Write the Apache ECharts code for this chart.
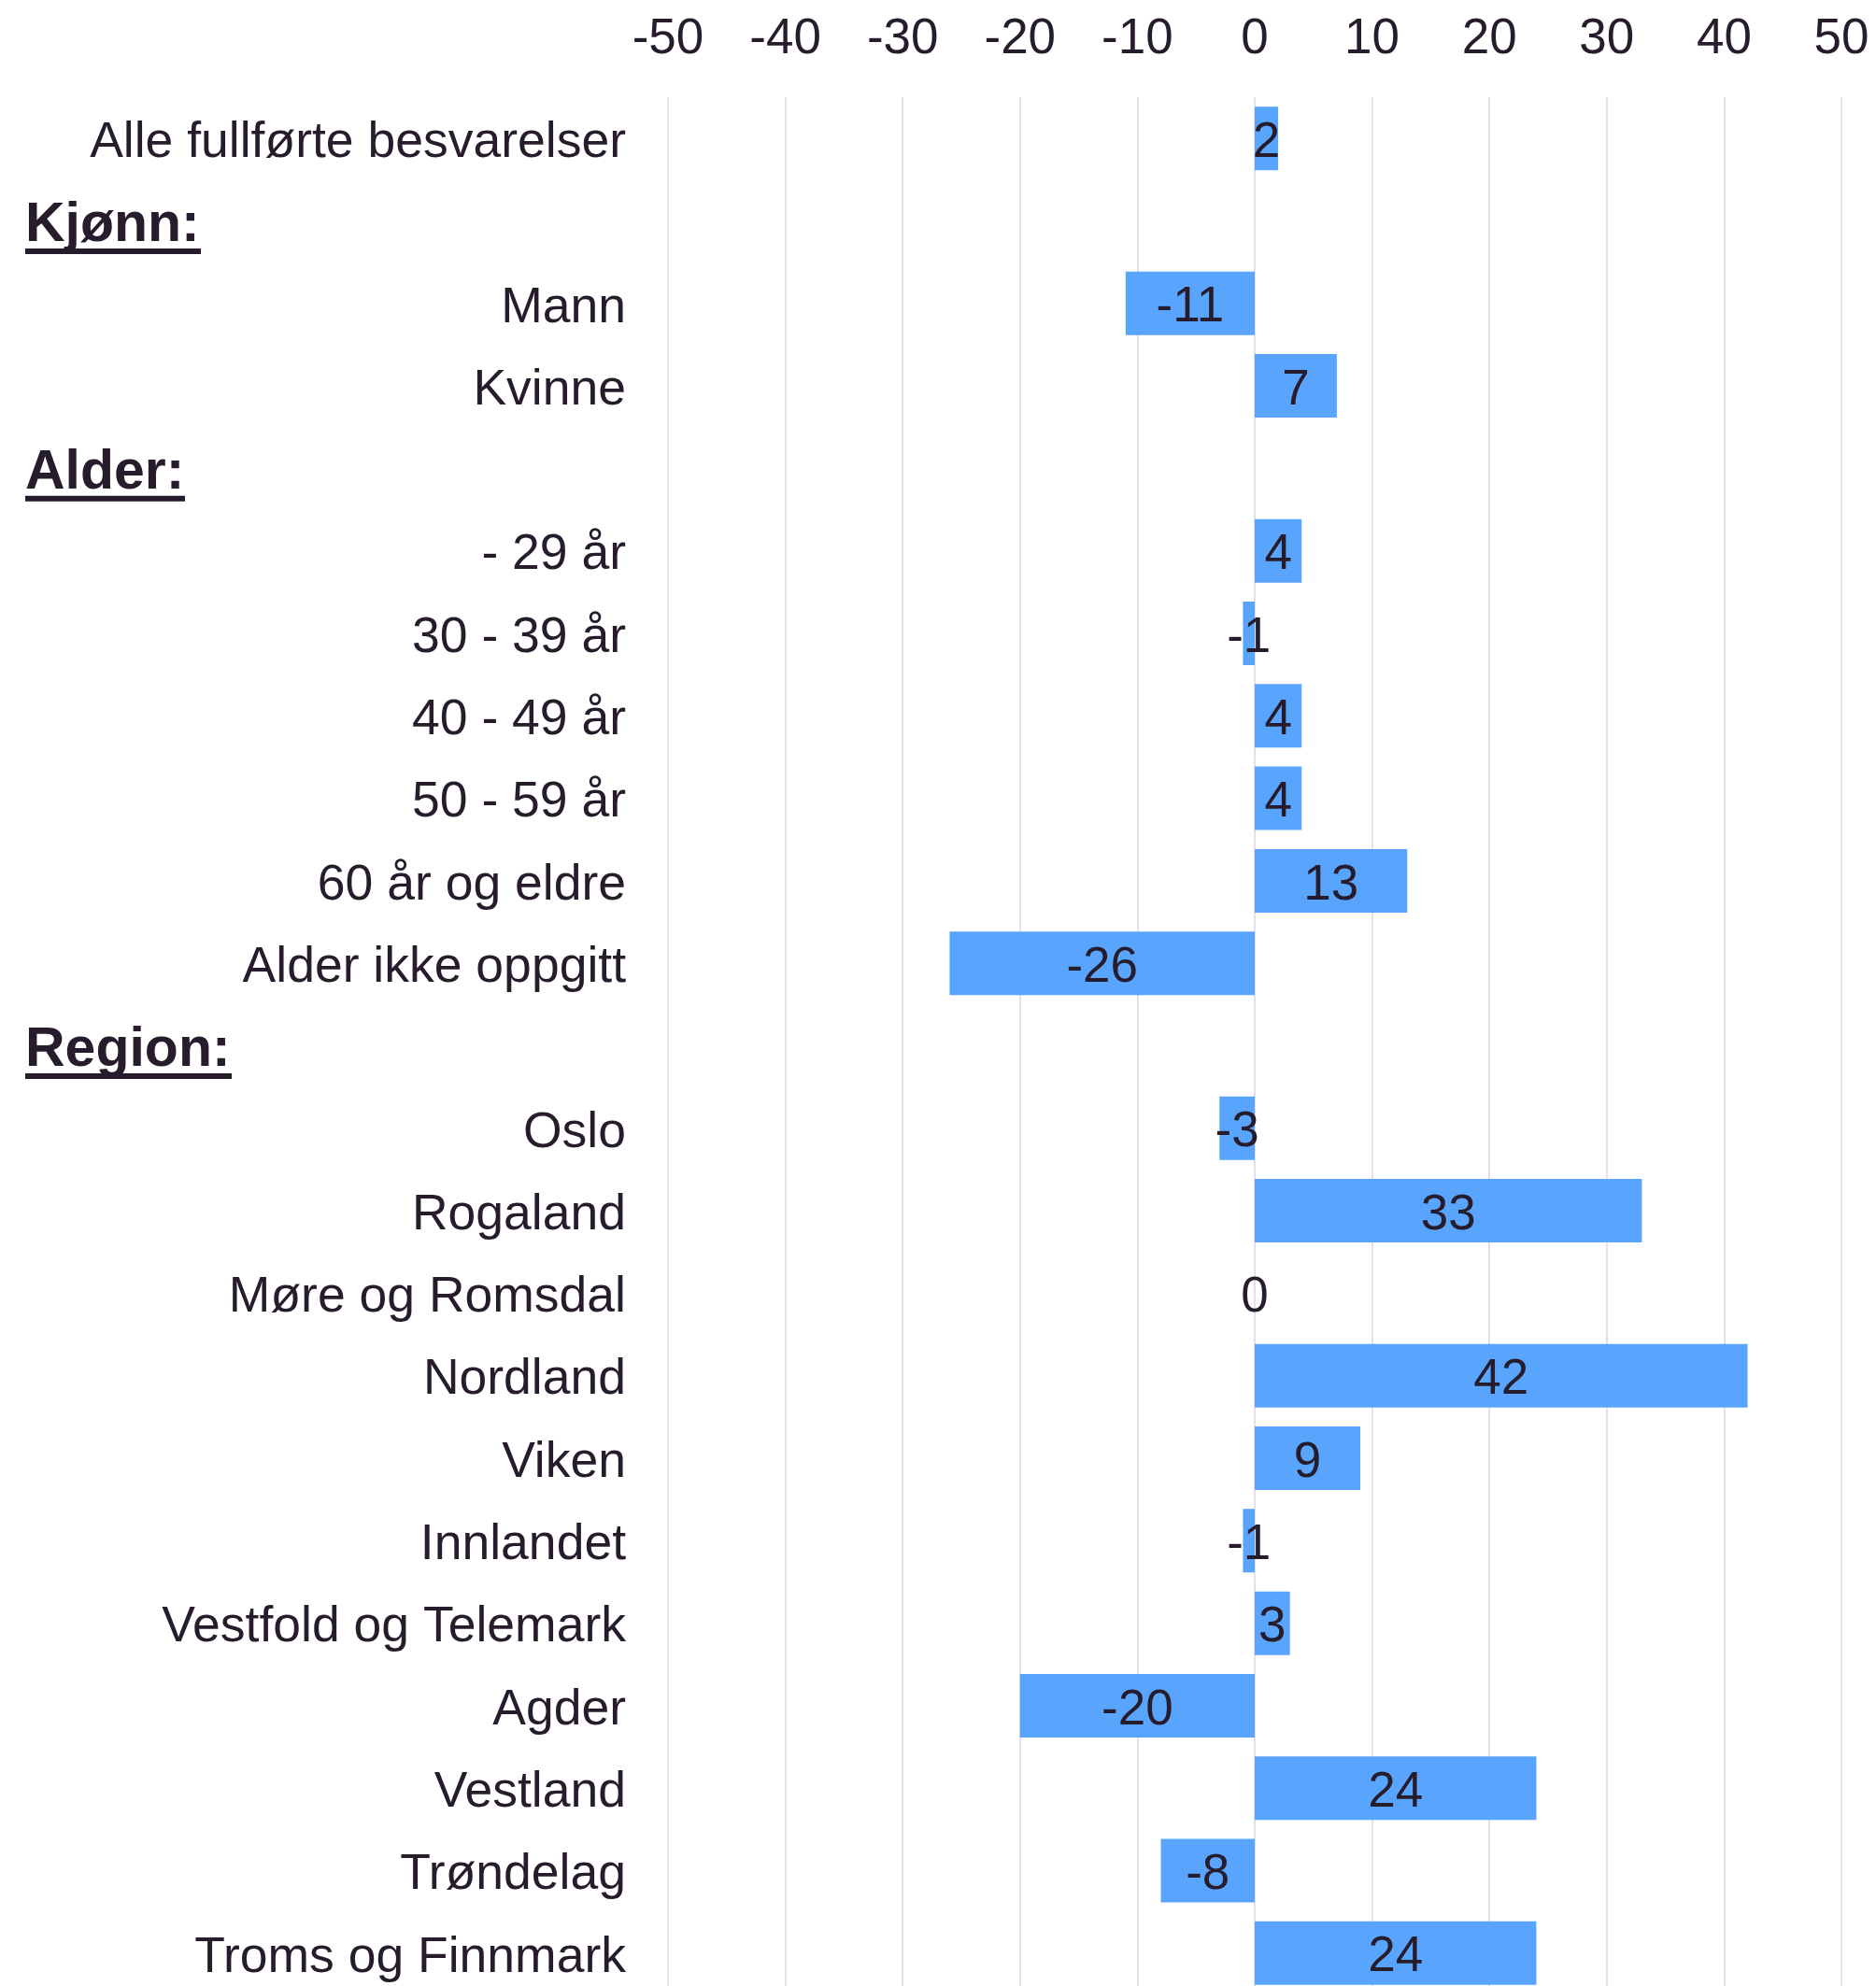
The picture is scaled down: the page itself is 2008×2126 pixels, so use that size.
<!DOCTYPE html>
<html>
<head>
<meta charset="utf-8">
<script src="https://cdn.jsdelivr.net/npm/echarts@6/dist/echarts.min.js"></script>
<style>
  html, body { margin: 0; padding: 0; background: #ffffff; }
  #chart { width: 2008px; height: 2126px; }
</style>
</head>
<body>
<div id="chart"></div>
<script>
// Rows from top to bottom; section headings have no bar.
const categories = [
  'Alle fullførte besvarelser',
  'Kjønn:',
  'Mann',
  'Kvinne',
  'Alder:',
  '- 29 år',
  '30 - 39 år',
  '40 - 49 år',
  '50 - 59 år',
  '60 år og eldre',
  'Alder ikke oppgitt',
  'Region:',
  'Oslo',
  'Rogaland',
  'Møre og Romsdal',
  'Nordland',
  'Viken',
  'Innlandet',
  'Vestfold og Telemark',
  'Agder',
  'Vestland',
  'Trøndelag',
  'Troms og Finnmark'
];
const sectionHeadings = ['Kjønn:', 'Alder:', 'Region:'];
const values = [2, null, -11, 7, null, 4, -1, 4, 4, 13, -26, null, -3, 33, 0, 42, 9, -1, 3, -20, 24, -8, 24];

// Value axis range and tick step
const axisMin = -50;
const axisMax = 50;
const axisStep = 10;

const FONT = '"Liberation Sans", Arial, Helvetica, sans-serif';
const TEXT = '#261c2c';
const BAR = '#59a4fd';
const GRID = '#e5dfea';
const HEAD_SIZE = 59;

// Underline widths follow the measured width of each heading.
const measureCtx = document.createElement('canvas').getContext('2d');
measureCtx.font = 'bold ' + HEAD_SIZE + 'px ' + FONT;
const rich = {
  sp: { height: 6, lineHeight: 6, fontSize: 4, align: 'left' },
  h: {
    fontFamily: FONT, fontSize: HEAD_SIZE, fontWeight: 'bold', color: TEXT,
    width: 643, lineHeight: 49, align: 'left'
  }
};
sectionHeadings.forEach(function (name, i) {
  rich['u' + i] = {
    width: Math.round(measureCtx.measureText(name).width) + 1,
    height: 6, lineHeight: 6, fontSize: 4,
    backgroundColor: TEXT, align: 'left'
  };
});

const chart = echarts.init(document.getElementById('chart'), null, { renderer: 'canvas' });
chart.setOption({
  backgroundColor: '#ffffff',
  animation: false,
  grid: { left: 715, right: 37, top: 104, height: 2031, containLabel: false, outerBoundsMode: 'none' },
  xAxis: {
    type: 'value',
    position: 'top',
    min: axisMin,
    max: axisMax,
    interval: axisStep,
    axisLine: { show: false },
    axisTick: { show: false },
    axisLabel: { fontFamily: FONT, fontSize: 53, color: TEXT, margin: 35 },
    splitLine: { show: true, lineStyle: { color: GRID, width: 2 } }
  },
  yAxis: {
    type: 'category',
    inverse: true,
    data: categories,
    axisLine: { show: false },
    axisTick: { show: false },
    splitLine: { show: false },
    axisLabel: {
      interval: 0,
      margin: 45,
      padding: [10, 0, 0, 0],
      fontFamily: FONT,
      fontSize: 53.5,
      color: TEXT,
      rich: rich,
      formatter: function (name) {
        const idx = sectionHeadings.indexOf(name);
        if (idx >= 0) {
          return '{sp| }\n{h|' + name + '}\n{u' + idx + '| }';
        }
        return name;
      }
    }
  },
  series: [{
    type: 'bar',
    data: values,
    barWidth: '77%',
    itemStyle: { color: BAR },
    label: {
      show: true,
      position: 'inside',
      offset: [0, 5],
      fontFamily: FONT,
      fontSize: 53,
      color: TEXT,
      formatter: function (p) {
        return p.value == null ? '' : String(Math.round(p.value));
      }
    }
  }]
});
</script>
</body>
</html>
